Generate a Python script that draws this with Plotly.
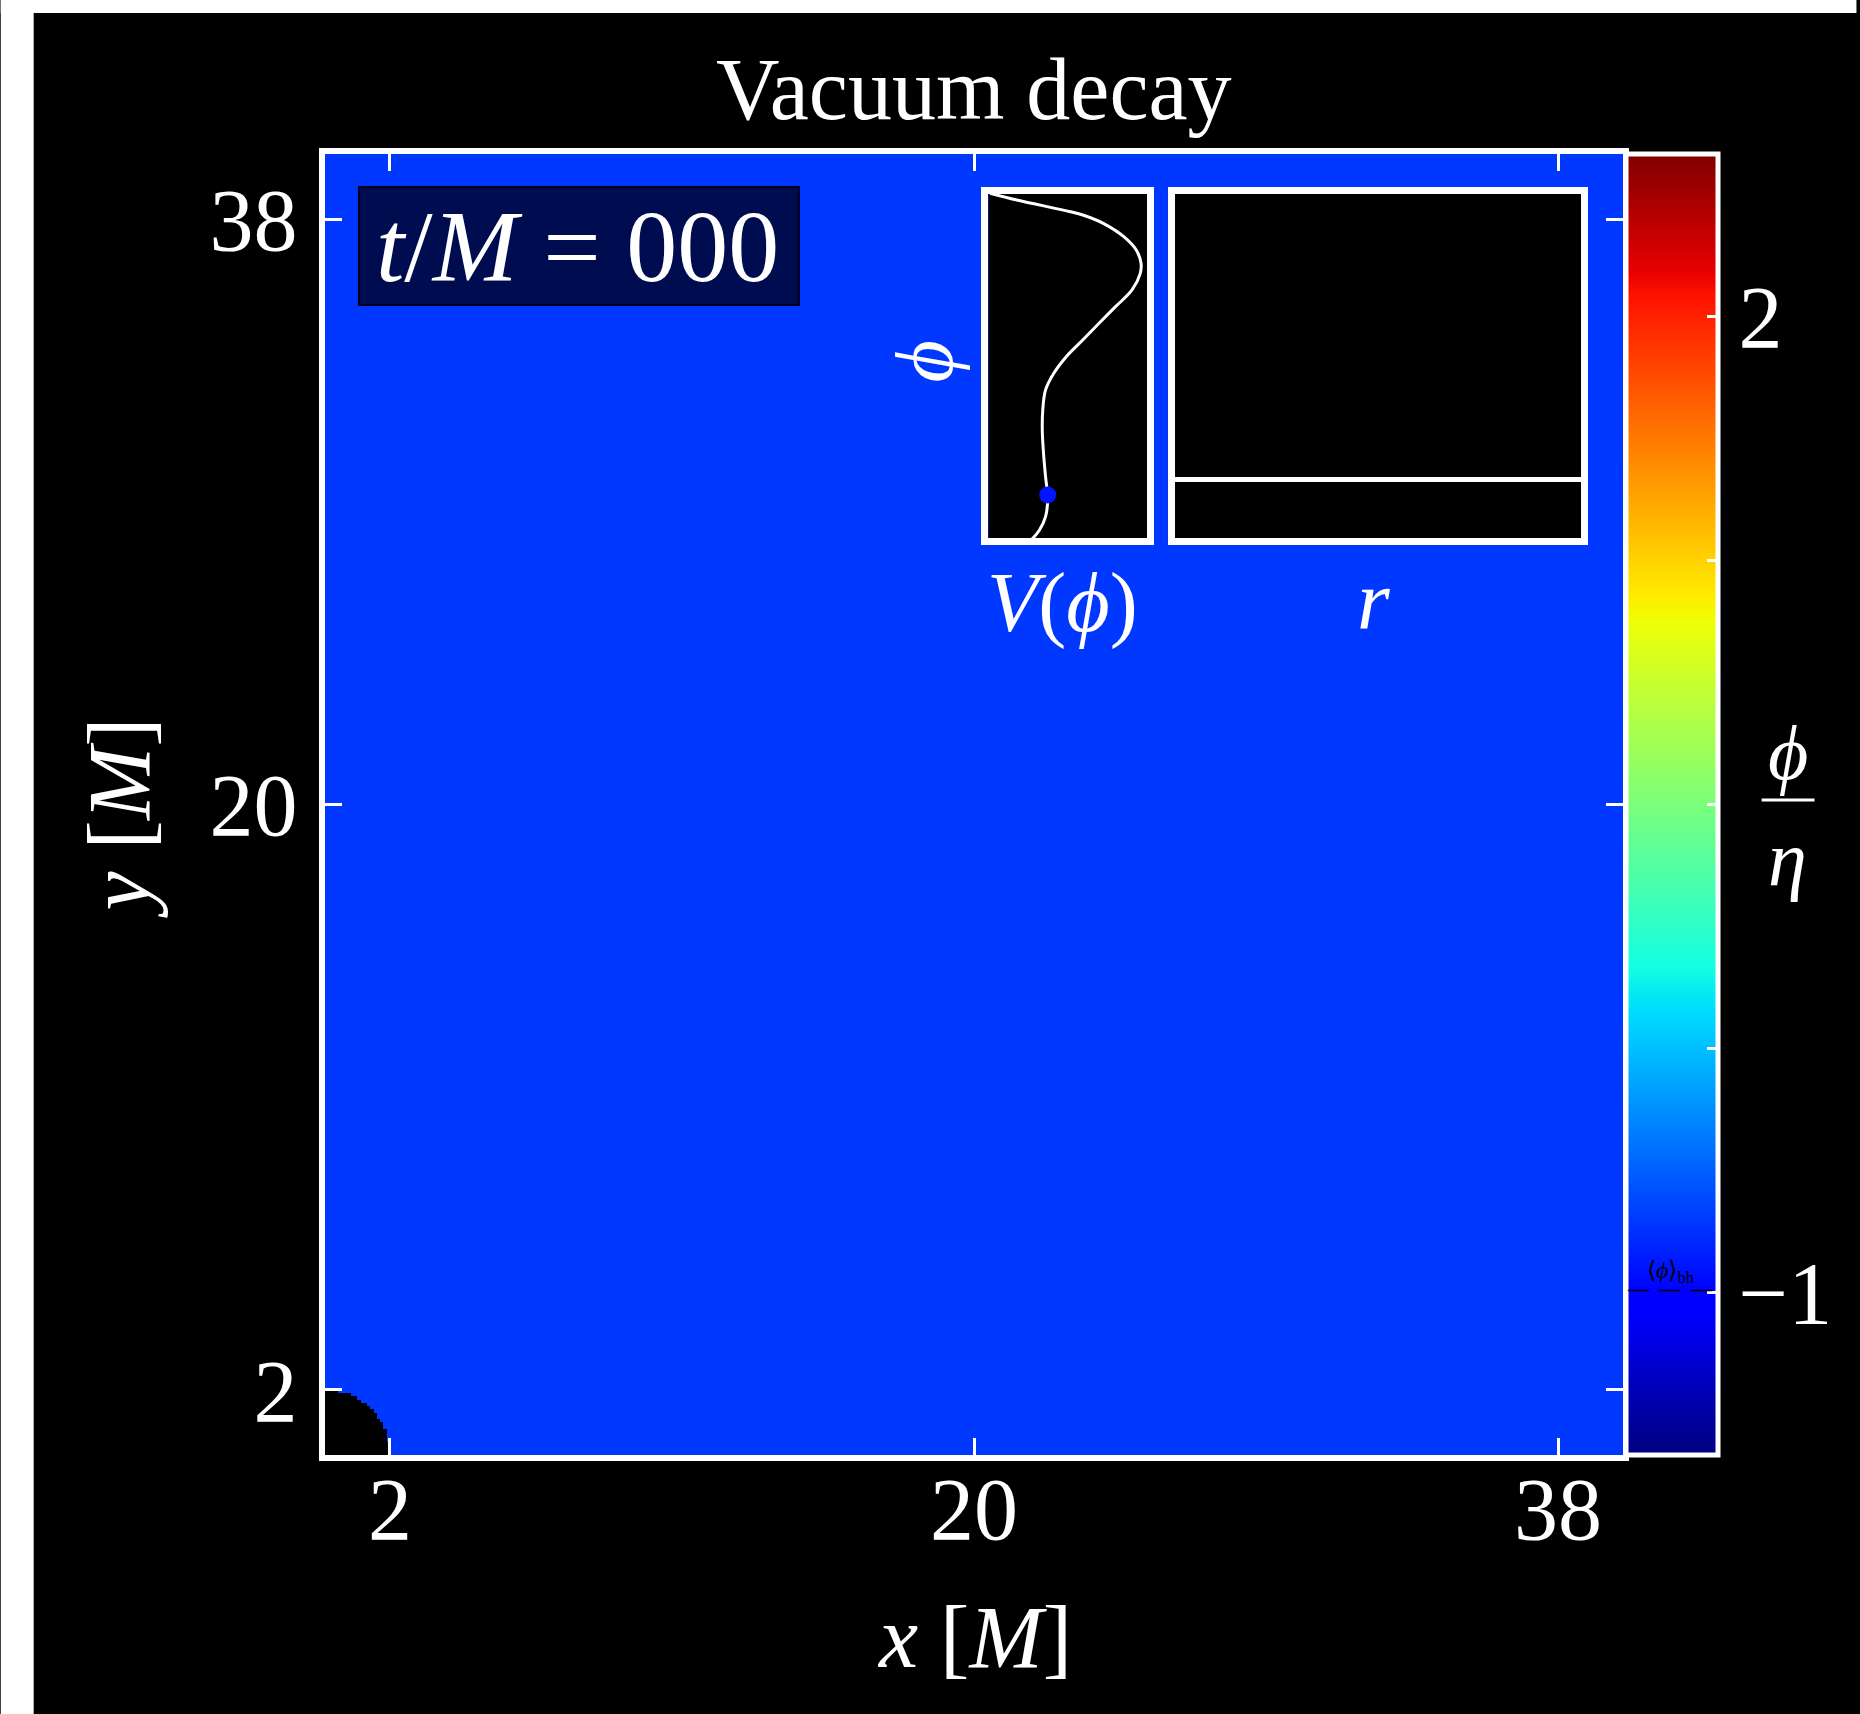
import numpy as np
import plotly.graph_objects as go

# ---------------- data ----------------
title_text = "Vacuum decay"
time_label = "000"
x_range = [0, 40]
y_range = [0, 40]
x_tickvals = [2, 20, 38]
y_tickvals = [2, 20, 38]
field_value = -0.78          # phi/eta over the whole grid
excision_radius = 2.0        # black-hole excision region (no data)
grid_step = 0.1
cbar_range = [-1.5, 2.5]
cbar_tickvals = [2, 1.25, 0.5, -0.25, -1]
cbar_ticktext = ["2", "", "", "", "\u22121"]
phi_bh = -1.0

# potential curve V(phi) (V horizontal, normalised; phi vertical)
pot_V = [0.010, 0.182, 0.526, 0.606, 0.738, 0.870, 0.950, 0.981, 0.976, 0.923,
         0.817, 0.711, 0.606, 0.500, 0.420, 0.367, 0.349, 0.346, 0.354, 0.367,
         0.381, 0.367, 0.328, 0.275]
pot_phi = [2.508, 2.43, 2.294, 2.256, 2.159, 2.004, 1.849, 1.694, 1.578, 1.384,
           1.190, 0.997, 0.802, 0.608, 0.415, 0.221, -0.012, -0.244, -0.515, -0.787,
           -1.038, -1.252, -1.407, -1.523]
dot_V = [0.381]
dot_phi = [-1.0]

# radial profile phi(r)
prof_r = [0, 40]
prof_phi = [-0.82, -0.82]

# ---------------- styling helpers ----------------
W, H = 1860, 1714
L, R, T, B = 325, 234, 154, 259
PW = W - L - R
PH = H - T - B
FONT = "Liberation Serif"

def px(xpix):
    return (xpix - L) / PW

def py(ypix):
    return (H - B - ypix) / PH

# matplotlib jet colorscale
stops = [0, 0.11, 0.125, 0.34, 0.35, 0.375, 0.64, 0.65, 0.66, 0.89, 0.91, 1.0]
jet = []
for s in stops:
    r = np.interp(s, [0, 0.35, 0.66, 0.89, 1], [0, 0, 1, 1, 0.5])
    g = np.interp(s, [0, 0.125, 0.375, 0.64, 0.91, 1], [0, 0, 1, 1, 0, 0])
    b = np.interp(s, [0, 0.11, 0.34, 0.65, 1], [0.5, 1, 1, 0, 0])
    jet.append([s, f"rgb({int(r*255)},{int(g*255)},{int(b*255)})"])

# grid
xc = np.arange(x_range[0] + grid_step / 2, x_range[1], grid_step)
yc = np.arange(y_range[0] + grid_step / 2, y_range[1], grid_step)
XX, YY = np.meshgrid(xc, yc)
Z = np.full(XX.shape, field_value, dtype=float)
Z[np.hypot(XX, YY) < excision_radius] = np.nan

fig = go.Figure()

fig.add_trace(go.Heatmap(
    x=xc, y=yc, z=Z, zmin=cbar_range[0], zmax=cbar_range[1],
    colorscale=jet, hoverinfo="skip",
    colorbar=dict(
        x=px(1629), xanchor="left", xpad=0, ypad=0,
        y=0.5, yanchor="middle", len=1, lenmode="fraction",
        thickness=92, thicknessmode="pixels",
        outlinewidth=5, outlinecolor="white",
        tickmode="array", tickvals=cbar_tickvals, ticktext=cbar_ticktext,
        ticks="inside", ticklen=13, tickwidth=3, tickcolor="white",
        tickfont=dict(family=FONT, size=88, color="white"),
    ),
))

# inset: potential
fig.add_trace(go.Scatter(x=pot_V, y=pot_phi, mode="lines",
                         line=dict(color="white", width=3, shape="spline"),
                         xaxis="x2", yaxis="y2", showlegend=False, hoverinfo="skip"))
fig.add_trace(go.Scatter(x=dot_V, y=dot_phi, mode="markers",
                         marker=dict(color="rgb(0,20,255)", size=17),
                         xaxis="x2", yaxis="y2", showlegend=False, hoverinfo="skip"))
# inset: radial profile
fig.add_trace(go.Scatter(x=prof_r, y=prof_phi, mode="lines",
                         line=dict(color="white", width=5),
                         xaxis="x3", yaxis="y3", showlegend=False, hoverinfo="skip"))

main_axis = dict(
    showgrid=False, zeroline=False, showline=True, linecolor="white", linewidth=6,
    mirror="ticks", ticks="inside", ticklen=17, tickwidth=3, tickcolor="white",
    tickmode="array", tickfont=dict(family=FONT, size=88, color="white"),
)
inset_axis = dict(showgrid=False, zeroline=False, showline=True, linecolor="white",
                  linewidth=7, mirror=True, ticks="", showticklabels=False, fixedrange=True)

inset_y = [py(538), py(194)]

fig.update_layout(
    width=W, height=H, autosize=False,
    margin=dict(l=L, r=R, t=T, b=B, pad=0),
    paper_bgcolor="black", plot_bgcolor="black",
    showlegend=False,
    xaxis=dict(main_axis, range=x_range, tickvals=x_tickvals, ticklabelstandoff=-28, domain=[0, 1]),
    yaxis=dict(main_axis, range=y_range, tickvals=y_tickvals, ticklabelstandoff=4, domain=[0, 1]),
    xaxis2=dict(inset_axis, range=[0, 1.02], domain=[px(990), px(1149)], anchor="y2"),
    yaxis2=dict(inset_axis, range=cbar_range, domain=inset_y, anchor="x2"),
    xaxis3=dict(inset_axis, range=[0, 40], domain=[px(1177), px(1584)], anchor="y3"),
    yaxis3=dict(inset_axis, range=cbar_range, domain=inset_y, anchor="x3"),
)

shapes = [
    # white strips of the page at left and top
    dict(type="rect", xref="paper", yref="paper", x0=px(0), x1=px(33), y0=py(H), y1=py(0),
         fillcolor="white", line=dict(width=0), layer="above"),
    dict(type="rect", xref="paper", yref="paper", x0=px(0), x1=px(W), y0=py(13), y1=py(0),
         fillcolor="white", line=dict(width=0), layer="above"),
    # time box
    dict(type="rect", xref="paper", yref="paper", x0=px(359), x1=px(800), y0=py(305), y1=py(187),
         fillcolor="rgb(0,12,80)", line=dict(width=2, color="rgb(0,0,30)"), layer="above"),
    # fraction bar of colorbar label
    dict(type="line", xref="paper", yref="paper", x0=px(1765), x1=px(1818), y0=py(800), y1=py(800),
         line=dict(color="white", width=3), layer="above"),
]
fig.update_layout(shapes=shapes)

bh_frac = (phi_bh - cbar_range[0]) / (cbar_range[1] - cbar_range[0])

ann = [
    dict(text=title_text, x=px(976), y=py(89), font=dict(size=88)),
    dict(text=f"<i>t</i>/<i>M</i> = {time_label}", x=px(578), y=py(247), font=dict(size=102)),
    dict(text="<i>x</i> [<i>M</i>]", x=px(976), y=py(1637), font=dict(size=88)),
    dict(text="<i>y</i> [<i>M</i>]", x=px(119), y=py(818), font=dict(size=88), textangle=-90),
    dict(text="<i>\u03d5</i>", x=px(925), y=py(362), font=dict(size=82), textangle=-90),
    dict(text="<i>V</i>(<i>\u03d5</i>)", x=px(1064), y=py(603), font=dict(size=84)),
    dict(text="<i>r</i>", x=px(1376), y=py(600), font=dict(size=84)),
    dict(text="<i>\u03d5</i>", x=px(1791), y=py(752), font=dict(size=78)),
    dict(text="<i>\u03b7</i>", x=px(1791), y=py(858), font=dict(size=78)),
    dict(text="\u27e8<i>\u03d5</i>\u27e9<sub>bh</sub>", x=px(1674), y=py(1272),
         font=dict(size=24, color="black")),
    # dashed marker of <phi>_bh across the colorbar
    dict(text="<b>\u2014\u2002\u2014\u2002\u2014</b>", x=px(1673), y=bh_frac, yshift=3,
         font=dict(size=21, color="black")),
]
for a in ann:
    a.setdefault("font", {})
    a["font"].setdefault("color", "white")
    a["font"]["family"] = FONT
    fig.add_annotation(xref="paper", yref="paper", showarrow=False,
                       xanchor="center", yanchor="middle", **a)

fig.write_html("out.html")
